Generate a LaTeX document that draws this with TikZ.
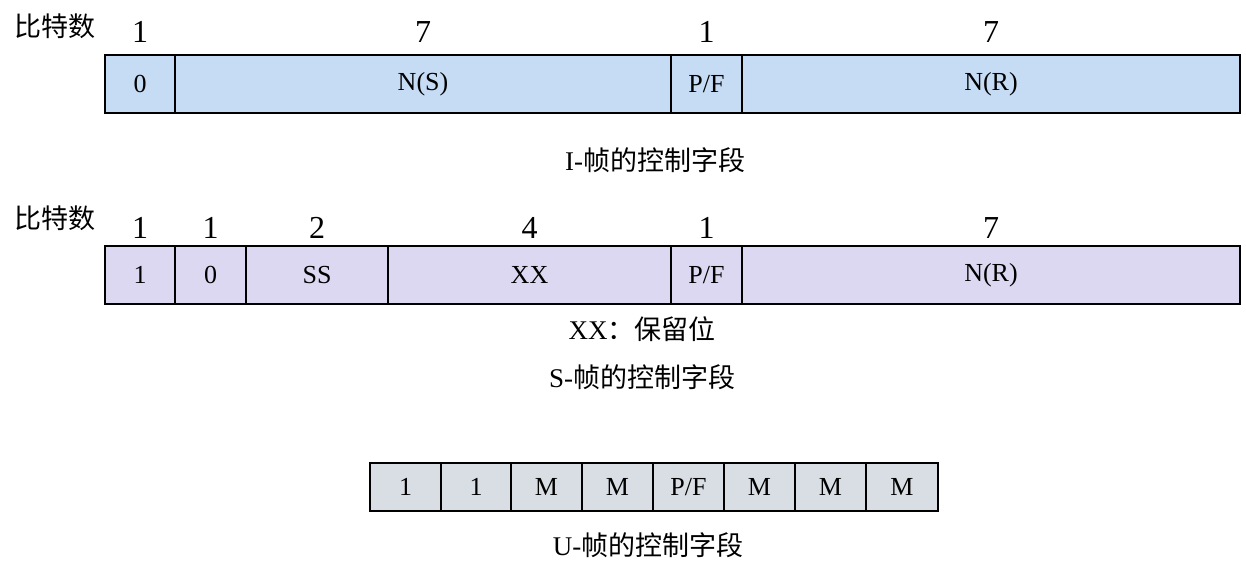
\documentclass[tikz,border=0pt]{standalone}
\usepackage{fontspec}
\setmainfont{Liberation Serif}
\newfontfamily\cjk{Noto Sans CJK SC}
\begin{document}
\begin{tikzpicture}[x=1pt,y=-1pt,
 t/.style={font=\fontsize{26}{26}\selectfont},
 num/.style={font=\fontsize{32}{32}\selectfont},
 captxt/.style={font=\fontsize{27}{27}\selectfont}]
\useasboundingbox (0,0) rectangle (1246,562);
\definecolor{cA}{HTML}{C6DBF4}
\definecolor{cB}{HTML}{DCD8F1}
\definecolor{cC}{HTML}{D9DDE4}
% row 1
\foreach \a/\b/\txt/\n/\nm in {105/175/0/1/a1,175/671/N(S)/7/a2,671/742/P\slash F/1/a3,742/1240/N(R)/7/a4}{
  \path[fill=cA,draw=black,line width=1.6pt] (\a,55) rectangle (\b,113);
  \node[t] (\nm) at ({(\a+\b)/2},84) {\txt};
  \node[num] (\nm n) at ({(\a+\b)/2},32) {\n};
}
\node[captxt] (lab1) at (55,26) {\cjk 比特数};
\node[captxt] (c1) at (655,160) {I-{\cjk 帧的控制字段}};
% row 2
\foreach \a/\b/\txt/\n/\nm in {105/175/1/1/b1,175/246/0/1/b2,246/388/SS/2/b3,388/671/XX/4/b4,671/742/P\slash F/1/b5,742/1240/N(R)/7/b6}{
  \path[fill=cB,draw=black,line width=1.6pt] (\a,246) rectangle (\b,304);
  \node[t] (\nm) at ({(\a+\b)/2},275) {\txt};
  \node[num] (\nm n) at ({(\a+\b)/2},228) {\n};
}
\node[captxt] (lab2) at (55,218) {\cjk 比特数};
\node[captxt] (x2) at (642,329) {XX{\cjk ：保留位}};
\node[captxt] (c2) at (642,377) {S-{\cjk 帧的控制字段}};
% row 3
\foreach \a/\b/\txt/\nm in {370/441/1/u1,441/511/1/u2,511/582/M/u3,582/653/M/u4,653/724/P\slash F/u5,724/795/M/u6,795/866/M/u7,866/938/M/u8}{
  \path[fill=cC,draw=black,line width=1.6pt] (\a,463) rectangle (\b,511);
  \node[t] (\nm) at ({(\a+\b)/2},487) {\txt};
}
\node[captxt] (c3) at (648,545) {U-{\cjk 帧的控制字段}};
\end{tikzpicture}
\end{document}
